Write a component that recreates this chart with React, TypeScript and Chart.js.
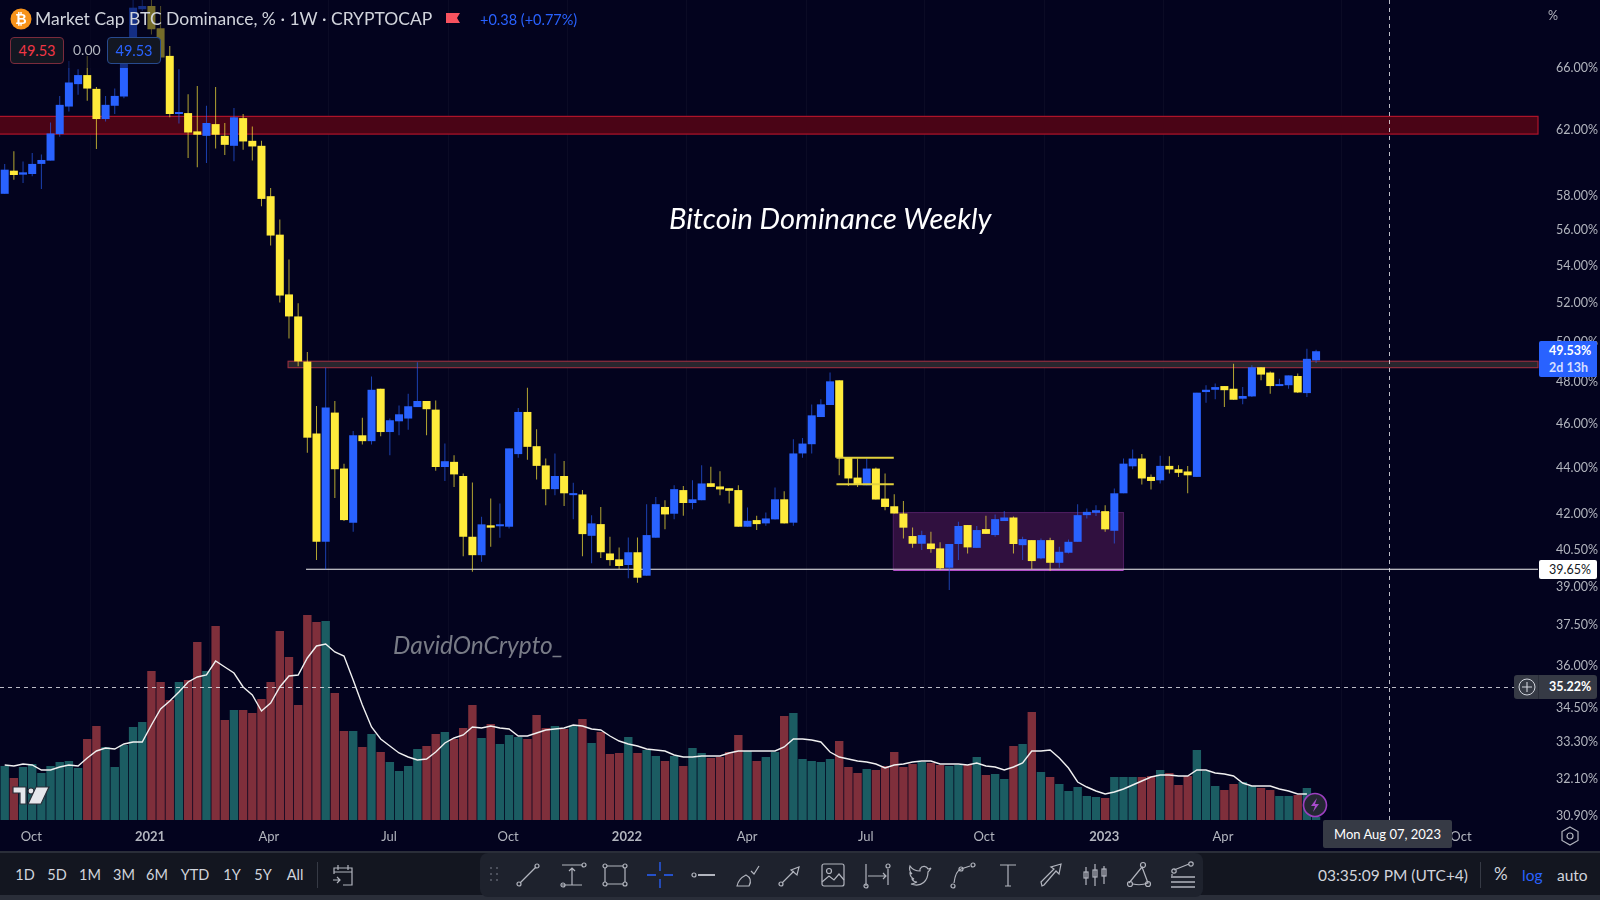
import React, { useEffect, useRef } from "react";
import { Chart, registerables } from "chart.js";

Chart.register(...registerables);

const opens = [
  58.11,59.49,59.25,59.29,59.90,60.10,61.74,63.49,64.95,65.55,64.64,62.69,
  63.54,64.14,67.66,70.08,70.31,68.74,66.84,63.01,63.07,61.91,61.63,62.37,
  61.63,61.01,62.75,61.32,61.01,57.97,55.75,52.47,51.31,49.01,45.56,40.82,
  46.54,43.97,41.62,45.48,45.21,47.68,45.63,46.13,46.26,46.80,47.09,46.68,
  44.04,44.27,43.64,41.03,40.27,41.51,41.47,41.45,44.62,46.57,44.98,44.11,
  43.06,43.64,42.80,42.83,41.07,41.56,40.34,40.10,39.87,40.39,39.44,40.99,
  42.29,42.00,43.02,42.46,42.58,43.32,43.18,43.10,43.02,41.45,41.73,41.59,
  41.76,42.62,41.62,44.65,45.07,46.33,46.90,48.09,44.46,43.57,43.23,43.97,
  42.65,42.32,42.01,41.06,40.74,40.75,40.55,39.76,40.73,41.52,40.57,41.35,
  41.10,41.69,41.84,40.68,40.89,40.14,40.89,39.96,40.37,40.82,41.94,42.04,
  42.11,41.28,42.88,44.07,44.42,43.60,43.45,44.09,43.94,43.84,43.60,47.52,
  47.63,47.81,47.68,47.20,47.31,48.73,48.47,47.81,47.85,48.30,47.47,49.07,
];
const closes = [
  59.55,59.23,59.39,59.90,60.14,61.78,63.60,65.06,65.55,64.66,62.69,63.60,
  64.18,67.52,70.19,70.31,68.67,66.73,63.01,63.11,61.84,61.70,62.44,61.70,
  61.07,62.80,61.28,60.97,57.81,55.70,52.41,51.31,49.02,45.37,40.82,46.78,
  43.94,41.73,45.48,45.21,47.63,45.63,46.18,46.46,46.84,47.09,46.70,44.04,
  44.30,43.71,41.03,40.27,41.55,41.41,41.49,44.88,46.57,44.95,44.09,43.06,
  43.64,42.88,42.83,41.14,41.59,40.39,40.07,39.83,40.39,39.36,41.10,42.41,
  41.97,43.06,42.46,42.62,43.31,43.16,43.05,42.99,41.45,41.70,41.56,41.80,
  42.62,41.59,44.65,45.10,46.41,46.93,48.04,44.46,43.53,43.26,43.97,42.61,
  42.29,42.01,41.41,40.74,41.10,40.52,39.74,40.73,41.48,40.59,41.31,41.15,
  41.77,41.84,40.73,40.93,40.03,40.89,39.96,40.41,40.82,41.94,42.08,42.15,
  41.34,42.88,44.19,44.42,43.53,43.42,44.09,43.93,43.78,43.67,47.49,47.63,
  47.76,47.61,47.15,47.33,48.73,48.37,47.81,47.90,48.33,47.50,49.15,49.53,
];
const highs = [
  59.90,60.67,60.04,60.57,60.47,62.47,64.18,66.50,65.94,66.84,64.77,64.18,
  64.66,67.70,71.20,71.00,71.50,70.31,67.52,65.94,64.29,64.83,63.54,64.77,
  62.44,63.39,63.01,62.22,61.32,58.46,56.61,54.36,52.00,49.49,46.85,48.71,
  47.09,44.19,45.68,46.30,48.28,47.68,46.26,46.88,47.44,48.98,47.09,47.12,
  45.10,44.57,43.75,43.35,41.87,42.65,42.44,44.88,46.76,47.73,45.76,44.42,
  44.65,44.31,43.34,43.02,41.94,42.29,41.03,40.59,41.00,41.00,42.41,42.72,
  42.58,43.23,43.20,43.45,44.12,44.05,43.85,43.10,43.23,42.27,41.91,42.05,
  43.13,42.97,45.30,45.35,46.92,47.17,48.47,48.09,44.46,44.42,44.42,44.02,
  43.75,42.84,42.55,41.42,41.28,41.24,40.80,40.73,41.66,41.52,41.48,41.91,
  41.97,42.12,41.88,41.03,40.89,40.96,40.99,40.62,40.92,42.41,42.22,42.36,
  42.36,43.09,44.42,44.83,44.62,43.71,44.54,44.52,44.12,44.09,47.49,47.85,
  47.93,47.81,48.91,47.76,48.83,48.73,48.52,48.17,48.33,48.42,49.65,49.60,
];
const lows = [
  58.11,58.95,58.75,59.15,58.40,60.10,61.57,63.17,64.25,63.86,60.81,62.54,
  63.01,64.03,67.40,69.96,68.30,66.60,62.80,62.41,60.26,59.69,59.96,60.85,
  60.45,60.06,60.77,60.10,57.38,55.14,52.04,50.18,48.78,44.68,40.07,39.70,
  42.68,41.69,41.24,45.06,45.06,45.43,44.57,45.48,45.74,46.80,45.48,43.87,
  43.42,43.16,40.23,39.60,40.00,40.62,40.99,41.38,44.46,44.37,43.49,42.36,
  42.80,42.33,41.77,40.23,39.94,40.16,39.84,39.71,39.34,39.16,39.44,40.99,
  41.34,41.77,41.91,42.19,42.58,43.16,42.80,42.44,41.45,41.45,41.31,41.49,
  41.76,41.59,41.49,44.45,44.65,46.33,46.90,43.67,43.20,43.16,43.23,42.61,
  42.15,42.01,40.96,40.57,40.48,40.37,39.67,38.87,40.07,40.34,40.57,41.15,
  41.03,41.69,40.34,40.07,39.71,40.10,39.64,39.76,40.34,40.82,41.80,41.90,
  41.24,40.75,42.88,43.94,43.26,43.05,43.31,43.75,43.60,42.88,43.60,47.01,
  47.17,46.80,47.15,46.93,47.28,48.09,47.44,47.81,47.68,47.47,47.28,48.94,
];
const volumes = [
  54,42,53,56,47,54,58,59,52,81,94,73,
  53,75,93,98,149,138,120,138,140,178,149,194,
  100,110,110,107,121,138,189,163,115,205,198,199,
  127,89,89,73,86,68,58,49,54,71,74,86,
  88,81,92,115,82,96,76,85,83,81,105,92,
  94,91,94,101,77,88,66,67,83,67,70,64,
  59,64,54,72,67,62,63,68,85,69,59,63,
  68,104,107,61,59,58,61,79,53,47,51,50,
  54,68,53,56,58,57,55,54,55,55,63,45,
  46,41,74,76,108,48,43,36,29,33,24,23,
  22,43,43,43,43,44,50,47,35,44,70,49,
  34,30,36,38,34,32,30,24,24,25,32,3,
];
const volumeAverage = [
  55,54,56,55,50,50,53,55,54,62,69,72,
  71,76,78,78,95,111,119,128,138,143,145,159,
  153,147,133,125,109,117,133,144,145,162,174,176,
  168,164,140,115,93,81,74,67,63,60,61,68,
  77,82,85,93,92,94,92,91,84,84,87,90,
  91,92,95,94,91,90,84,79,76,74,71,70,
  69,65,63,63,64,64,64,67,69,69,69,69,
  69,73,81,81,80,78,68,63,61,59,58,56,
  52,55,56,58,59,59,56,56,56,55,57,54,
  53,50,53,57,69,69,70,62,52,38,33,29,
  26,28,31,35,39,43,45,45,44,44,50,50,
  47,46,44,37,34,34,34,31,29,26,26,null,
];
const volumeSides = (
  "trtttttttrrt" + "ttttrrrtrrtr" + "rtrrrrrrrrrt" + "rrtrtrttttrr" +
  "trrrtrtttrrr" + "trtrtrrrtrtt" + "rtrttrrrrtrt" + "trtttttrrrtr" +
  "rrrrtrrttrtr" + "ttrtrtrttttt" + "rtttrrtrrrtt" + "trrttrrttrtt"
).split("");

const priceTicks = [66, 62, 58, 56, 54, 52, 50, 48, 46, 44, 42, 40.5, 39, 37.5, 36, 34.5, 33.3, 32.1, 30.9];
const timeTickLabels = ["Oct", "2021", "Apr", "Jul", "Oct", "2022", "Apr", "Jul", "Oct", "2023", "Apr", "Oct"];
const timeTickIndexes = [2.9, 15.85, 28.8, 41.9, 54.9, 67.85, 80.95, 93.9, 106.8, 119.9, 132.85, 158.8];

const redZone = [61.74, 62.86];
const resistanceBand = [48.71, 49.03];
const supportLevel = 39.7;
const rangeBox = [39.67, 42.05];
const shortLevels = [44.46, 43.28];
const crosshairPrice = 35.22;
const crosshairIndex = 151;

const BG = "#03031e";
const UP = "#2962ff";
const DOWN = "#ffeb3b";
const TEXT = "#b2b5be";
const FONT = "Lato, 'Open Sans', sans-serif";

const zonesPlugin = {
  id: "zones",
  beforeDatasetsDraw(chart: any) {
    const { ctx, chartArea, scales } = chart;
    const x = scales.x;
    const y = scales.y;
    const right = chartArea.right;
    ctx.save();
    // red supply zone
    const rt = y.getPixelForValue(redZone[1]);
    const rb = y.getPixelForValue(redZone[0]);
    ctx.fillStyle = "#4a0416";
    ctx.fillRect(0, rt, right, rb - rt);
    ctx.strokeStyle = "#b0142a";
    ctx.lineWidth = 1.2;
    ctx.strokeRect(-2, rt, right + 2, rb - rt);
    // grey/red resistance band
    const bt = y.getPixelForValue(resistanceBand[1]);
    const bb = y.getPixelForValue(resistanceBand[0]);
    const bl = x.getPixelForValue(30.9);
    ctx.fillStyle = "#29262e";
    ctx.fillRect(bl, bt, right - bl, bb - bt);
    ctx.strokeStyle = "#9b3040";
    ctx.lineWidth = 1.1;
    ctx.strokeRect(bl, bt, right - bl, bb - bt);
    // purple range box
    const pl = x.getPixelForValue(96.9);
    const pr = x.getPixelForValue(122);
    const pt = y.getPixelForValue(rangeBox[1]);
    const pb = y.getPixelForValue(rangeBox[0]);
    ctx.fillStyle = "#30103f";
    ctx.fillRect(pl, pt, pr - pl, pb - pt);
    ctx.strokeStyle = "#4c1d5f";
    ctx.strokeRect(pl, pt, pr - pl, pb - pt);
    // support line
    const sy = y.getPixelForValue(supportLevel);
    ctx.strokeStyle = "#f2f2f2";
    ctx.lineWidth = 1.2;
    ctx.beginPath();
    ctx.moveTo(x.getPixelForValue(32.86), sy);
    ctx.lineTo(right, sy);
    ctx.stroke();
    ctx.strokeStyle = "#b04cc8";
    ctx.beginPath();
    ctx.moveTo(pl, pb + 0.5);
    ctx.lineTo(pr, pb + 0.5);
    ctx.stroke();
    ctx.restore();
  },
  afterDatasetsDraw(chart: any) {
    const { ctx, chartArea, scales } = chart;
    const x = scales.x;
    const y = scales.y;
    ctx.save();
    // short yellow levels
    ctx.strokeStyle = "#e3d23c";
    ctx.lineWidth = 2;
    shortLevels.forEach((v) => {
      const py = y.getPixelForValue(v);
      ctx.beginPath();
      ctx.moveTo(x.getPixelForValue(90.7), py);
      ctx.lineTo(x.getPixelForValue(96.95), py);
      ctx.stroke();
    });
    // crosshair
    ctx.setLineDash([4, 4]);
    ctx.strokeStyle = "rgba(235,235,240,0.8)";
    ctx.lineWidth = 1;
    const cy = Math.round(y.getPixelForValue(crosshairPrice)) + 0.5;
    const cx = Math.round(x.getPixelForValue(crosshairIndex)) + 0.5;
    ctx.beginPath();
    ctx.moveTo(0, cy);
    ctx.lineTo(chartArea.right, cy);
    ctx.moveTo(cx, 0);
    ctx.lineTo(cx, chartArea.bottom);
    ctx.stroke();
    ctx.restore();
  },
};

const abs = (style: React.CSSProperties): React.CSSProperties => ({ position: "absolute", whiteSpace: "nowrap", ...style });

const stroke = { fill: "none", stroke: "#b2b5be", strokeWidth: 1.2 };

const toolIcons: [number, React.ReactNode][] = [
  [528, <g {...stroke}><path d="M6 22 22 6" /><circle cx="5" cy="23" r="2" /><circle cx="23" cy="5" r="2" /></g>],
  [573, <g {...stroke}><path d="M3 4h20M3 24h20M13 24V7M10 10l3-3 3 3" /><circle cx="25" cy="4" r="2" /><circle cx="4" cy="24" r="2" /></g>],
  [615, <g {...stroke}><path d="M6 5h16M6 23h16M4 7v14M24 7v14" /><circle cx="4" cy="5" r="2" /><circle cx="24" cy="5" r="2" /><circle cx="4" cy="23" r="2" /><circle cx="24" cy="23" r="2" /></g>],
  [660, <g fill="none" stroke="#2962ff" strokeWidth="1.3"><path d="M14 1v9M14 18v9M1 14h9M18 14h9" /></g>],
  [703, <g {...stroke}><path d="M9 14h17" strokeWidth="2" /><circle cx="5" cy="14" r="2" /></g>],
  [747, <g {...stroke}><path d="M4 25h12c3-5 1-9-3-11-4 2-8 6-9 11zM18 10l3 3 5-8" /></g>],
  [790, <g {...stroke}><path d="M6 22 18 10M15 9l8-3-2 8z" /><circle cx="5" cy="23" r="2" /></g>],
  [833, <g {...stroke}><rect x="3" y="3" width="22" height="22" rx="2" /><circle cx="10" cy="10" r="2.5" /><path d="M3 21l7-6 5 4 5-6 5 6" /></g>],
  [877, <g {...stroke}><path d="M3 3v22M25 8v16M5 15h18M20 12l3 3-3 3" /><circle cx="25" cy="5" r="2" /><circle cx="3" cy="25" r="2" /></g>],
  [920, <g {...stroke}><path d="M25 7c-1 1-2 1-3 1-1-3-6-4-8 0v2C10 10 6 8 4 5c-1 3 0 6 2 8l-2-1c0 3 2 5 4 6H6c1 2 3 3 5 3-2 1-4 2-6 2 11 4 17-4 17-12 1-1 2-2 3-4z" /></g>],
  [963, <g {...stroke}><path d="M5 22c1-8 4-13 7-14l9-3" /><circle cx="4" cy="25" r="2" /><circle cx="12" cy="8" r="2" /><circle cx="24" cy="4" r="2" /></g>],
  [1008, <g {...stroke}><path d="M6 4h16M14 4v21M11 25h6" /></g>],
  [1051, <g {...stroke}><path d="M5 25l-1-4L17 8l-3-2 10-3-2 10-3-3L7 24z" /></g>],
  [1095, <g {...stroke}><path d="M5 6v18M14 3v22M23 5v18" /><rect x="3" y="11" width="4" height="6" /><rect x="12" y="9" width="4" height="7" /><rect x="21" y="8" width="4" height="7" /></g>],
  [1139, <g {...stroke}><path d="M4 22 17 6l6 16c-5 2-11 2-15 1" /><circle cx="18" cy="4" r="2.5" /><circle cx="5" cy="23" r="2.5" /><circle cx="23" cy="23" r="2.5" /></g>],
  [1183, <g {...stroke}><path d="M5 9 20 3M3 13v2" /><circle cx="5" cy="10" r="2.2" /><circle cx="22" cy="3" r="2.2" /><path d="M2 16h24M2 21h24M2 26h24" strokeWidth="1.7" /></g>],
];

const rangeButtons: [string, number][] = [
  ["1D", 25], ["5D", 57], ["1M", 90], ["3M", 124], ["6M", 157], ["YTD", 195], ["1Y", 232], ["5Y", 263], ["All", 295],
];

export default function App() {
  const ref = useRef<HTMLCanvasElement>(null);

  useEffect(() => {
    const ticksOn = (values: number[]) => (scale: any) => {
      scale.ticks = values.map((value) => ({ value }));
    };
    const noPadding = (scale: any) => {
      scale.paddingTop = 0;
      scale.paddingBottom = 0;
      scale.paddingLeft = 0;
      scale.paddingRight = 0;
    };
    const index = opens.map((_, i) => i);
    const isUp = (i: number) => closes[i] >= opens[i];
    const chart = new Chart(ref.current as HTMLCanvasElement, {
      type: "bar",
      plugins: [zonesPlugin],
      data: {
        datasets: [
          {
            type: "line",
            label: "Volume MA",
            order: 0,
            yAxisID: "vol",
            data: index.map((i) => ({ x: i, y: volumeAverage[i] })),
            borderColor: "#f0f0f0",
            borderWidth: 1.4,
            pointRadius: 0,
            tension: 0,
            spanGaps: false,
          },
          {
            label: "Candle body",
            order: 1,
            yAxisID: "y",
            data: index.map((i) => ({ x: i, y: [opens[i], closes[i]] })),
            backgroundColor: index.map((i) => (isUp(i) ? UP : DOWN)),
            barThickness: 8,
            minBarLength: 2,
            grouped: false,
            inflateAmount: 0,
          },
          {
            label: "Candle wick",
            order: 2,
            yAxisID: "y",
            data: index.map((i) => ({ x: i, y: [lows[i], highs[i]] })),
            backgroundColor: index.map((i) => (isUp(i) ? "rgba(41,98,255,0.65)" : "rgba(255,235,59,0.7)")),
            barThickness: 1,
            grouped: false,
            inflateAmount: 0,
          },
          {
            label: "Volume",
            order: 3,
            yAxisID: "vol",
            data: index.map((i) => ({ x: i, y: volumes[i] })),
            backgroundColor: index.map((i) => (volumeSides[i] === "t" ? "#1b5c62" : "#7f2f3b")),
            barThickness: 8.4,
            grouped: false,
            inflateAmount: 0,
          },
        ],
      } as any,
      options: {
        animation: false,
        responsive: false,
        devicePixelRatio: 1,
        layout: { padding: 0 },
        plugins: { legend: { display: false }, tooltip: { enabled: false } },
        scales: {
          x: {
            type: "linear",
            min: -0.5125,
            max: 167.2,
            bounds: "data",
            offset: false,
            afterBuildTicks: ticksOn(timeTickIndexes),
            afterFit: (s: any) => {
              s.height = 32;
              noPadding(s);
            },
            grid: { color: "rgba(255,255,255,0.035)", drawTicks: false },
            border: { display: false },
            ticks: {
              autoSkip: false,
              maxRotation: 0,
              padding: 9,
              color: TEXT,
              font: (ctx: any) => ({
                family: FONT,
                size: 13,
                weight: /^\d/.test(String(timeTickLabels[timeTickIndexes.indexOf(ctx.tick?.value)])) ? "bold" : "normal",
              }),
              callback: (v: any) => timeTickLabels[timeTickIndexes.indexOf(v)],
            },
          },
          y: {
            type: "logarithmic",
            position: "right",
            min: 30.78,
            max: 70.74,
            bounds: "data",
            afterBuildTicks: ticksOn(priceTicks),
            afterFit: (s: any) => {
              s.width = 62;
              noPadding(s);
            },
            grid: { display: false },
            border: { display: false },
            ticks: {
              autoSkip: false,
              padding: 10,
              color: TEXT,
              font: { family: FONT, size: 12.5 },
              callback: (v: any) => Number(v).toFixed(2) + "%",
            },
          },
          vol: { type: "linear", display: false, min: 0, max: 820 },
        },
      } as any,
    });
    return () => chart.destroy();
  }, []);

  return (
    <div style={{ position: "fixed", left: 0, top: 0, width: 1600, height: 900, background: BG, overflow: "hidden", fontFamily: FONT, color: "#d1d4dc" }}>
      <canvas ref={ref} width={1600} height={852} style={{ position: "absolute", left: 0, top: 0, width: 1600, height: 852 }} />

      {/* legend */}
      <div style={abs({ left: 0, top: 0, width: 165, height: 68, background: "rgba(3,3,30,0.55)" })} />
      <svg width="22" height="22" viewBox="0 0 22 22" style={abs({ left: 10, top: 8 })}>
        <circle cx="11" cy="11" r="10.5" fill="#f7931a" />
        <text x="11" y="16" textAnchor="middle" fontSize="14" fontWeight="bold" fill="#fff" fontFamily={FONT}>₿</text>
      </svg>
      <div style={abs({ left: 35, top: 8, fontSize: 17.5, lineHeight: "21px", color: "#d1d4dc" })}>Market Cap BTC Dominance, % · 1W · CRYPTOCAP</div>
      <svg width="16" height="14" viewBox="0 0 16 14" style={abs({ left: 445, top: 12 })}>
        <path d="M1 1h14l-3 5 3 5H1z" fill="#f7525f" />
      </svg>
      <div style={abs({ left: 480, top: 11, fontSize: 14.5, lineHeight: "18px", color: "#2962ff" })}>+0.38 (+0.77%)</div>
      <div style={abs({ left: 10, top: 37, width: 54, height: 27, boxSizing: "border-box", border: "1px solid #7a2b3c", borderRadius: 4, background: "#131722", color: "#f23645", fontSize: 14.5, lineHeight: "25px", textAlign: "center" })}>49.53</div>
      <div style={abs({ left: 73, top: 41, fontSize: 14, lineHeight: "18px", color: "#b2b5be" })}>0.00</div>
      <div style={abs({ left: 107, top: 37, width: 54, height: 27, boxSizing: "border-box", border: "1px solid #274a8f", borderRadius: 4, background: "#131722", color: "#2962ff", fontSize: 14.5, lineHeight: "25px", textAlign: "center" })}>49.53</div>

      {/* drawn text */}
      <div style={abs({ left: 669, top: 199, fontSize: 29, lineHeight: "38px", fontStyle: "italic", color: "#ffffff" })}>Bitcoin Dominance Weekly</div>
      <div style={abs({ left: 393, top: 629, fontSize: 24.5, lineHeight: "32px", fontStyle: "italic", color: "#787b86" })}>DavidOnCrypto_</div>

      {/* price axis labels */}
      <div style={abs({ left: 1548, top: 8, fontSize: 12.5, lineHeight: "16px", color: TEXT })}>%</div>
      <div style={abs({ left: 1539, top: 341, width: 58, height: 36, background: "#2962ff", borderRadius: 2, color: "#fff", fontSize: 12.5, fontWeight: 700, lineHeight: "17px", paddingLeft: 10, paddingTop: 1, boxSizing: "border-box" })}>
        <div>49.53%</div>
        <div style={{ color: "#d5dfff" }}>2d 13h</div>
      </div>
      <div style={abs({ left: 1539, top: 560, width: 58, height: 19, background: "#ffffff", borderRadius: 2, color: "#131722", fontSize: 12.5, lineHeight: "19px", paddingLeft: 10, boxSizing: "border-box" })}>39.65%</div>
      <div style={abs({ left: 1514, top: 675, width: 83, height: 24, background: "#363a45", borderRadius: 3, color: "#ffffff", fontSize: 12.5, fontWeight: 700, lineHeight: "24px", paddingLeft: 35, boxSizing: "border-box" })}>35.22%</div>
      <div style={abs({ left: 1538, top: 675, width: 1, height: 24, background: "#2a2e39" })} />
      <svg width="20" height="20" viewBox="0 0 20 20" style={abs({ left: 1517, top: 677 })}>
        <circle cx="10" cy="10" r="8" fill="none" stroke="#d1d4dc" />
        <path d="M10 5v10M5 10h10" stroke="#d1d4dc" strokeWidth="1.1" />
      </svg>

      {/* time label */}
      <div style={abs({ left: 1323, top: 820, width: 129, height: 28, background: "#363a45", borderRadius: 2, color: "#fff", fontSize: 13, lineHeight: "28px", textAlign: "center" })}>Mon Aug 07, 2023</div>

      {/* settings hexagon */}
      <svg width="22" height="22" viewBox="0 0 22 22" style={abs({ left: 1559, top: 825 })}>
        <path d="M11 2l8 4.5v9L11 20l-8-4.5v-9z" fill="none" stroke="#b2b5be" strokeWidth="1.2" />
        <circle cx="11" cy="11" r="3" fill="none" stroke="#b2b5be" strokeWidth="1.2" />
      </svg>

      {/* logo and badge */}
      <svg width="38" height="22" viewBox="0 0 38 22" style={abs({ left: 12, top: 785 })}>
        <g fill="#e6e7ec" stroke="#2a2e39" strokeWidth="1.2">
          <path d="M1 2h13v17H8V8H1z" />
          <circle cx="19" cy="6" r="3" />
          <path d="M24 2h13l-8 17H16z" />
        </g>
      </svg>
      <svg width="26" height="26" viewBox="0 0 26 26" style={abs({ left: 1302, top: 792 })}>
        <circle cx="13" cy="13" r="11.5" fill="#242733" stroke="#9c3fc0" strokeWidth="1.6" />
        <path d="M15 6l-6 8h4l-2 6 6-8h-4z" fill="#a84bcb" />
      </svg>

      {/* bottom bar */}
      <div style={abs({ left: 0, top: 851, width: 1600, height: 49, background: "#2a2e39" })} />
      <div style={abs({ left: 0, top: 853, width: 1600, height: 42, background: "#131620" })} />
      {rangeButtons.map(([t, x]) => (
        <div key={t} style={abs({ left: x - 20, top: 866, width: 40, textAlign: "center", fontSize: 14.5, lineHeight: "18px", color: "#d1d4dc" })}>{t}</div>
      ))}
      <div style={abs({ left: 317, top: 862, width: 1, height: 26, background: "#363a45" })} />
      <svg width="24" height="24" viewBox="0 0 24 24" style={abs({ left: 331, top: 863 })}>
        <path d="M3 11V5h18v17H12M3 9h18M7 2v5M17 2v5M2 17h7M6 14l3 3-3 3" fill="none" stroke="#b2b5be" strokeWidth="1.2" />
      </svg>
      <div style={abs({ left: 480, top: 853, width: 723, height: 44, background: "#1e222d", borderRadius: "8px" })} />
      <svg width="10" height="18" viewBox="0 0 10 18" style={abs({ left: 489, top: 866 })}>
        {[1, 7, 13].map((y) => [1, 7].map((x) => <rect key={`${x}-${y}`} x={x} y={y} width="2" height="2" fill="#4c505c" />))}
      </svg>
      {toolIcons.map(([x, icon]) => (
        <svg key={x} width="28" height="28" viewBox="0 0 28 28" style={abs({ left: x - 14, top: 861 })}>{icon}</svg>
      ))}
      <div style={abs({ left: 1318, top: 865, fontSize: 15.5, lineHeight: "20px", color: "#d1d4dc" })}>03:35:09 PM (UTC+4)</div>
      <div style={abs({ left: 1480, top: 862, width: 1, height: 26, background: "#363a45" })} />
      <div style={abs({ left: 1494, top: 864, fontSize: 17, lineHeight: "20px", color: "#d1d4dc" })}>%</div>
      <div style={abs({ left: 1522, top: 865, fontSize: 15.5, lineHeight: "20px", color: "#2962ff" })}>log</div>
      <div style={abs({ left: 1557, top: 865, fontSize: 15.5, lineHeight: "20px", color: "#d1d4dc" })}>auto</div>
    </div>
  );
}
